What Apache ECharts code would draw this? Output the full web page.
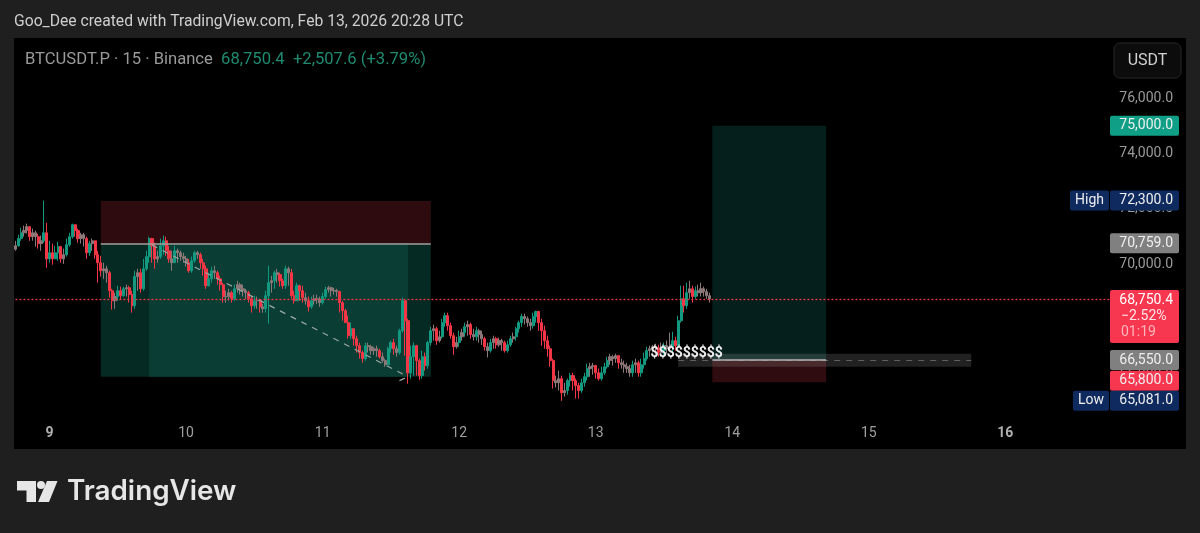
<!DOCTYPE html>
<html><head><meta charset="utf-8">
<style>html,body{margin:0;padding:0;background:#1f1f1f}#c{width:1200px;height:533px}</style>
<script src="https://cdn.jsdelivr.net/npm/echarts@6/dist/echarts.min.js"></script>
</head><body><div id="c"></div>
<script>
const headerText = 'Goo_Dee created with TradingView.com, Feb 13, 2026 20:28 UTC';
const symbolText = 'BTCUSDT.P · 15 · Binance';
const quoteText = '68,750.4  +2,507.6 (+3.79%)';
const priceTicks = [66000, 68000, 70000, 72000, 74000, 76000];
const dayLabels = [9, 10, 11, 12, 13, 14, 15, 16];
const opens = [70550,70670,70930,71140,71220,71360,71000,71140,71000,70750,70850,71140,70200,70420,70200,70420,70640,70200,70350,70710,
71000,71430,71220,70930,71070,70930,70420,70750,70850,70350,70060,69770,69840,69700,69050,68690,68840,69050,68870,69120,
69160,68910,68510,69560,69700,69120,69840,70280,70930,70670,70200,70280,70670,70850,70490,70200,70060,70490,70420,70280,
70200,70060,69770,70130,70420,70350,70060,69840,69230,69480,69770,69700,69480,69270,68840,68830,68980,68760,69120,69270,
69120,69050,68980,68760,68510,68690,68700,68470,68400,68870,69340,69410,69700,69630,69410,69230,69840,69700,68870,68690,
69230,69050,68800,68690,68470,68690,68760,68750,68620,68840,69090,69160,69050,69060,69020,68620,68330,67900,67430,67680,
67320,67070,66820,66600,67070,67030,66890,66960,66890,66670,66530,66380,66960,67180,66960,66820,67610,68690,67970,66090,
66670,67070,66530,65990,66670,66350,67180,67610,67680,67250,67390,67900,68150,67790,67430,67030,67180,67390,67540,67750,
67830,67470,67390,67610,67470,67320,67030,66890,67180,67320,67100,67250,67180,66890,67100,67320,67390,67680,67900,68120,
68040,67900,67790,68120,68300,67900,67610,67250,66960,66530,65810,65730,65880,65370,65450,65810,65990,65810,65630,65450,
65730,65950,66240,66310,66350,66090,65880,66090,66310,66530,66670,66600,66710,66450,66380,66310,66240,66090,66380,66450,
66090,66380,66600,66890,66960,67030,66990,66820,66890,67070,66960,67030,67250,67070,67970,68760,68510,68980,69120,68840,
69050,68980,69120,69020,68870];
const closes = [70670,70930,71140,71220,71360,71000,71140,71000,70750,70850,71140,70200,70420,70200,70420,70640,70200,70350,70710,71000,
71430,71220,70930,71070,70930,70420,70750,70850,70350,70060,69770,69840,69700,69050,68690,68840,69050,68870,69120,69160,
68910,68510,69560,69700,69120,69840,70280,70930,70670,70200,70280,70670,70850,70490,70200,70060,70490,70420,70280,70200,
70060,69770,70130,70420,70350,70060,69840,69230,69480,69770,69700,69480,69270,68840,68830,68980,68760,69120,69270,69120,
69050,68980,68760,68510,68690,68700,68470,68400,68870,69340,69410,69700,69630,69410,69230,69840,69700,68870,68690,69230,
69050,68800,68690,68470,68690,68760,68750,68620,68840,69090,69160,69050,69060,69020,68620,68330,67900,67430,67680,67320,
67070,66820,66600,67070,67030,66890,66960,66890,66670,66530,66380,66960,67180,66960,66820,67610,68690,67970,66090,66670,
67070,66530,65990,66670,66350,67180,67610,67680,67250,67390,67900,68150,67790,67430,67030,67180,67390,67540,67750,67830,
67470,67390,67610,67470,67320,67030,66890,67180,67320,67100,67250,67180,66890,67100,67320,67390,67680,67900,68120,68040,
67900,67790,68120,68300,67900,67610,67250,66960,66530,65810,65730,65880,65370,65450,65810,65990,65810,65630,65450,65730,
65950,66240,66310,66350,66090,65880,66090,66310,66530,66670,66600,66710,66450,66380,66310,66240,66090,66380,66450,66090,
66380,66600,66890,66960,67030,66990,66820,66890,67070,66960,67030,67250,67070,67970,68760,68510,68980,69120,68840,69050,
68980,69120,69020,68870,68750];
const highs = [70850,71070,71320,71400,71470,71360,71290,71220,71110,71040,72300,71500,70850,70750,70670,70820,70670,70570,70930,71140,
71470,71400,71290,71140,71140,71000,70850,70930,70850,70490,70310,70060,69950,69770,69120,68980,69230,69200,69200,69270,
69230,69050,69770,69840,69840,70200,70490,71000,70960,70780,70490,70930,71040,71000,70670,70490,70670,70570,70490,70420,
70310,70200,70280,70490,70490,70420,70200,69950,69700,69920,69950,69770,69590,69340,69050,69120,69050,69270,69410,69340,
69270,69120,69050,68870,68870,68840,68760,68580,69050,69950,69590,69770,69840,69700,69480,69950,69920,69840,69050,69340,
69270,69230,68980,68840,68840,68910,68910,68840,68980,69200,69230,69200,69160,69120,69050,68690,68400,68150,67900,67680,
67430,67180,66890,67180,67180,67100,67030,67070,66960,66820,66600,67030,67250,67320,67070,67680,68800,68620,68040,67070,
67180,67100,66600,66890,66820,67250,67750,67830,67750,67610,68040,68260,68260,67900,67540,67390,67610,67680,67900,67970,
67900,67680,67750,67680,67610,67390,67180,67320,67430,67390,67360,67320,67250,67250,67430,67540,67750,67970,68220,68220,
68120,68040,68260,68330,68330,68040,67790,67430,67070,66600,65990,66170,65990,65730,65880,66090,66090,65880,65730,65880,
66090,66420,66450,66450,66380,66240,66310,66450,66670,66780,66740,66780,66710,66600,66530,66450,66380,66530,66600,66530,
66600,66820,67030,67070,67100,67140,67100,67180,67180,67250,67540,67570,67390,68150,69230,69230,69340,69410,69230,69200,
69270,69340,69200,69120,68980];
const lows = [70490,70640,70850,71000,71110,70850,70850,70640,70570,70490,70780,69880,70060,69990,70200,70130,70060,70020,70280,70640,
70930,71000,70780,70750,70640,70200,70310,70490,70200,69340,69560,69480,69340,68800,68370,68400,68690,68730,68840,68840,
68620,68260,68400,69050,68980,69050,69770,70060,70060,69840,70060,70200,70350,70310,70060,69770,70060,70060,70130,70060,
69920,69700,69700,70060,70200,69840,69590,69120,69200,69340,69480,69270,69050,68620,68620,68690,68620,68690,68980,68910,
68840,68760,68620,68260,68400,68400,68260,68260,68260,67860,68980,69120,69340,69200,69120,69120,69230,68760,68580,68690,
68690,68620,68550,68300,68400,68550,68580,68470,68550,68760,68980,68840,68910,68840,68260,67970,67890,67320,67320,67070,
66820,66600,66450,66530,66820,66740,66740,66670,66600,66450,66310,66380,66820,66740,66670,66740,67540,66710,65700,65880,
65990,65990,65840,65880,66170,66240,67070,67250,67100,67180,67320,67750,67610,67320,66740,66960,67030,67250,67390,67430,
67320,67250,67250,67180,67100,66890,66640,66820,66960,66960,67030,66890,66820,66820,67030,67180,67250,67540,67750,67830,
67750,67610,67680,67900,67610,67070,66960,66670,66310,65520,65560,65450,65081,65230,65300,65590,65450,65160,65160,65370,
65590,65810,65950,66020,65880,65810,65810,66020,66240,66380,66350,66450,66240,66240,66090,66090,65950,65950,66090,65950,
65950,66240,66530,66670,66820,66740,66670,66670,66740,66780,66890,66820,66890,67030,67900,68260,68400,68760,68620,68760,
68840,68840,68840,68760,68620];

const slotCount = 412;
const slotsPerDay = 48;
const firstDaySlot = 12;
const categories = Array.from({length: slotCount}, (_, i) => 'S' + i);
const UP = '#12997f', DOWN = '#f23645', FLAT = '#8c7878';
// candles whose body is small read as a muted grey in the reference
const candles = opens.map((o, i) => {
  const item = {value:[o, closes[i], lows[i], highs[i]]};
  if (Math.abs(closes[i] - o) <= 150) item.itemStyle = {color:FLAT, color0:FLAT, borderColor:FLAT, borderColor0:FLAT};
  return item;
});
const dayOfSlot = {};
dayLabels.forEach((d, i) => { dayOfSlot['S' + (firstDaySlot + i * slotsPerDay)] = d; });

const tagW = 69, tagX = 1110;
function fmt(v){ return v.toLocaleString('en-US', {minimumFractionDigits:1, maximumFractionDigits:1}); }

const chart = echarts.init(document.getElementById('c'), null, {renderer:'canvas'});
function area(x0, y0, x1, y1, color){
  return [{xAxis:categories[x0], yAxis:y0, itemStyle:{color}}, {xAxis:categories[x1], yAxis:y1}];
}
function seg(x0, y0, x1, y1, style){
  return [{coord:[categories[x0], y0], lineStyle:style}, {coord:[categories[x1], y1]}];
}
const tagData = [
  [75000, '75,000.0', '#0f9f86', ''],
  [72300, '72,300.0', '#0f2a5e', 'High'],
  [70759, '70,759.0', '#808080', ''],
  [66550, '66,550.0', '#808080', ''],
  [65800, '65,800.0', '#f7374f', ''],
  [65081, '65,081.0', '#0f2a5e', 'Low'],
  [68750.4, '68,750.4', '#f7374f', 'last']
];
const font = 'Roboto';
function renderTag(params, api){
  const d = tagData[params.dataIndex];
  const y = api.coord([0, api.value(1)])[1];
  const kids = [];
  if (d[3] === 'last') {
    kids.push({type:'rect', shape:{x:tagX, y:y-9, width:tagW, height:53, r:2}, style:{fill:d[2]}});
    kids.push({type:'text', style:{x:tagX+63, y:y+1, text:d[1], fill:'#fff', font:'14px '+font, align:'right', verticalAlign:'middle'}});
    kids.push({type:'text', style:{x:tagX+11, y:y+17, text:'−2.52%', fill:'#ffe3e6', font:'14px '+font, align:'left', verticalAlign:'middle'}});
    kids.push({type:'text', style:{x:tagX+11, y:y+33, text:'01:19', fill:'#ffb3ba', font:'14px '+font, align:'left', verticalAlign:'middle'}});
  } else {
    kids.push({type:'rect', shape:{x:tagX, y:y-10, width:tagW, height:20, r:2}, style:{fill:d[2]}});
    kids.push({type:'text', style:{x:tagX+63, y:y, text:d[1], fill:'#eee', font:'14px '+font, align:'right', verticalAlign:'middle'}});
    if (d[3]) {
      const w = d[3] === 'High' ? 39 : 36;
      kids.push({type:'rect', shape:{x:tagX-1-w, y:y-10, width:w, height:20, r:2}, style:{fill:d[2]}});
      kids.push({type:'text', style:{x:tagX-1-w/2, y:y, text:d[3], fill:'#eee', font:'14px '+font, align:'center', verticalAlign:'middle'}});
    }
  }
  return {type:'group', children:kids};
}

chart.setOption({
  animation:false,
  backgroundColor:'#1f1f1f',
  title:[
    {text:headerText, left:14, top:14, padding:0, textStyle:{fontFamily:font, fontSize:15.7, fontWeight:'normal', color:'#cfcfcf'}},
    {text:'{a|'+symbolText+'}  {b|'+quoteText+'}', left:25, top:51, padding:0, textStyle:{fontFamily:font, fontSize:16.6, fontWeight:'normal',
      rich:{a:{fontFamily:font, fontSize:16.6, color:'#9a9a9a'}, b:{fontFamily:font, fontSize:16.6, color:'#1f8a70'}}}}
  ],
  grid:{left:14, right:14, top:38, bottom:84, show:true, backgroundColor:'#000', borderWidth:0},
  xAxis:{type:'category', data:categories, boundaryGap:true,
    axisLine:{show:false}, axisTick:{show:false}, splitLine:{show:false},
    axisLabel:{inside:true, margin:9, interval:(i, v) => v in dayOfSlot, hideOverlap:false,
      formatter:v => { const d = dayOfSlot[v]; return (d === 9 || d === 16) ? '{b|'+d+'}' : '{r|'+d+'}'; },
      rich:{b:{fontFamily:font, fontSize:14, fontWeight:'bold', color:'#b0b0b0'}, r:{fontFamily:font, fontSize:14, color:'#a0a0a0'}}
    }},
  yAxis:{type:'value', position:'right', min:63343, max:78164, scale:true,
    axisLine:{show:false}, axisTick:{show:false}, splitLine:{show:false},
    axisLabel:{inside:true, margin:13, fontFamily:font, fontSize:14, color:'#9a9a9a', padding:[2,0,0,0], formatter:v => fmt(v), customValues:priceTicks}},
  graphic:[
    {type:'group', silent:true, children:[
      {type:'rect', shape:{x:1114, y:43, width:67, height:35, r:6}, style:{fill:'#0c0c0c', stroke:'#262626', lineWidth:1}},
      {type:'text', style:{x:1147.5, y:60.5, text:'USDT', fill:'#d0d0d0', font:'16px '+font, align:'center', verticalAlign:'middle'}},
      {type:'polygon', shape:{points:[[17,481],[36,481],[36,502],[26.5,502],[26.5,490.5],[17,490.5]]}, style:{fill:'#e6e6e6'}},
      {type:'circle', shape:{cx:41, cy:485, r:4}, style:{fill:'#e6e6e6'}},
      {type:'polygon', shape:{points:[[47,481],[57.5,481],[49,502],[38,502]]}, style:{fill:'#e6e6e6'}},
      {type:'text', style:{x:67, y:492, text:'TradingView', fill:'#e6e6e6', font:'600 27.8px Inter', align:'left', verticalAlign:'middle'}}
    ]}
  ],
  series:[
    {type:'line', data:[], z:1, silent:true, symbol:'none',
      markArea:{silent:true, data:[
        area(30, 72290, 146, 70759, '#2e0b0f'),
        area(30, 70759, 146, 65950, '#052a24'),
        area(47, 70759, 138, 65950, '#0a3d33'),
        area(245, 75000, 285, 66550, '#051f1c'),
        area(245, 66550, 285, 65750, '#2f0c10'),
        area(233, 66780, 336, 66310, 'rgba(255,255,255,0.13)')
      ]},
      markLine:{silent:true, symbol:'none', label:{show:false}, data:[
        seg(30, 70759, 146, 70759, {color:'#a89c9c', width:1.5, type:'solid'}),
        seg(233, 66550, 336, 66550, {color:'#5f5f5f', width:1, type:[6,6]}),
        seg(245, 66550, 285, 66550, {color:'#b5b5b5', width:1.5, type:'solid'}),
        seg(48, 70700, 138, 65950, {color:'#9aa8a4', width:1.2, type:[6,6]}),
        seg(135, 65810, 138, 65950, {color:'#9aa8a4', width:1.2, type:[6,6]})
      ]}},
    {type:'candlestick', data:candles, z:3, barWidth:2.6, silent:true,
      itemStyle:{color:UP, color0:DOWN, borderColor:UP, borderColor0:DOWN, borderWidth:1}},
    {type:'line', data:[], z:4, silent:true, symbol:'none',
      markLine:{silent:true, symbol:'none', label:{show:false}, data:[
        seg(0, 68750.4, 385, 68750.4, {color:'#f23645', width:1.3, type:[2,2]})
      ]},
      markPoint:{silent:true, symbol:'circle', symbolSize:0, data:[
        {coord:[categories[236], 66770], label:{show:true, position:'inside', formatter:'$$$$$$$$$', color:'#f0f0f0', fontFamily:font, fontSize:14, fontWeight:'bold'}}
      ]}},
    {type:'custom', z:6, silent:true, renderItem:renderTag, clip:false,
      data:tagData.map(d => [0, d[0]])}
  ]
});
</script></body></html>
